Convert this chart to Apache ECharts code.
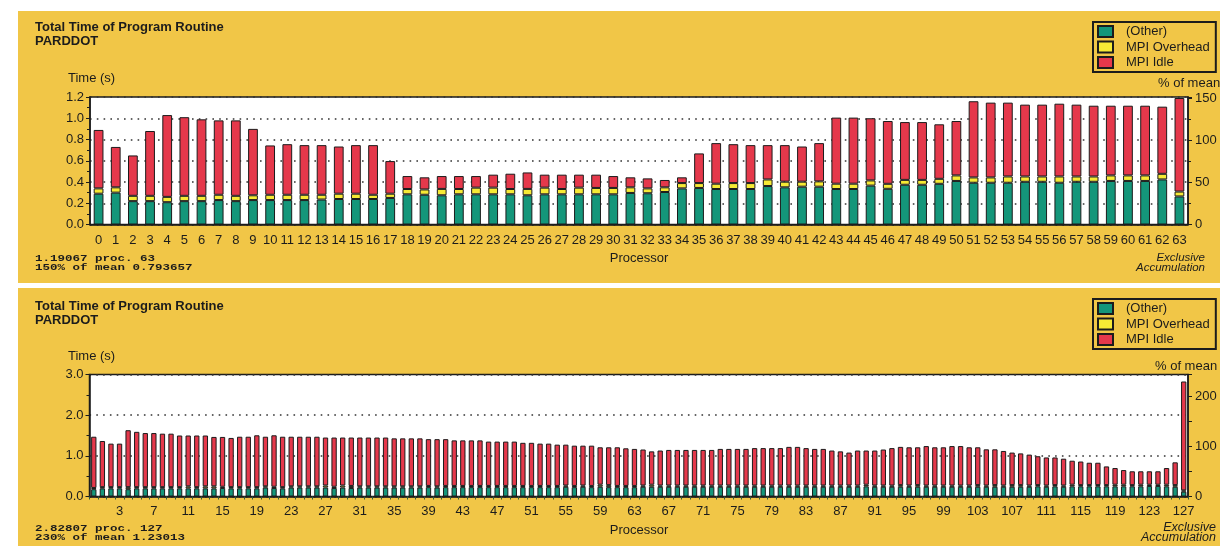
<!DOCTYPE html>
<html>
<head>
<meta charset="utf-8">
<script src="https://cdn.jsdelivr.net/npm/echarts@6/dist/echarts.min.js"></script>
<style>
  html, body { margin: 0; padding: 0; background: #ffffff; }
  #chart { width: 1220px; height: 546px; }
</style>
</head>
<body>
<div id="chart"></div>
<script>
// ---- Stack segment names (bottom to top) ----
const segmentNames = ['(Other)', 'MPI Overhead', 'MPI Idle'];

// ---- Run A: 64 processors ----
const procsA = Array.from({ length: 64 }, (_, i) => String(i));
const meanA = 0.793657;
const totalA = [
  0.89, 0.73, 0.65, 0.88, 1.03, 1.01, 0.99, 0.98, 0.98, 0.90,
  0.744, 0.756, 0.747, 0.747, 0.734, 0.747, 0.747, 0.597, 0.456, 0.444,
  0.456, 0.456, 0.456, 0.469, 0.478, 0.49, 0.469, 0.469, 0.469, 0.469,
  0.456, 0.444, 0.434, 0.419, 0.444, 0.669, 0.766, 0.756, 0.747, 0.747,
  0.747, 0.734, 0.766, 1.006, 1.006, 1.0, 0.974, 0.964, 0.964, 0.943,
  0.974, 1.16, 1.147, 1.147, 1.128, 1.128, 1.137, 1.128, 1.118, 1.118,
  1.118, 1.118, 1.109, 1.19067
];
const otherA = [
  0.29, 0.30, 0.22, 0.22, 0.21, 0.22, 0.22, 0.23, 0.22, 0.23,
  0.23, 0.23, 0.23, 0.235, 0.24, 0.24, 0.24, 0.25, 0.284, 0.28,
  0.275, 0.284, 0.284, 0.284, 0.284, 0.275, 0.284, 0.284, 0.284, 0.284,
  0.284, 0.297, 0.294, 0.306, 0.34, 0.344, 0.334, 0.334, 0.334, 0.362,
  0.35, 0.356, 0.356, 0.334, 0.334, 0.366, 0.336, 0.374, 0.374, 0.383,
  0.41, 0.393, 0.393, 0.393, 0.402, 0.402, 0.393, 0.402, 0.402, 0.41,
  0.41, 0.41, 0.424, 0.264
];
const overheadA = [
  0.05, 0.05, 0.05, 0.05, 0.05, 0.05, 0.05, 0.05, 0.05, 0.045,
  0.05, 0.05, 0.05, 0.045, 0.05, 0.05, 0.04, 0.04, 0.05, 0.05,
  0.06, 0.05, 0.063, 0.063, 0.05, 0.06, 0.063, 0.05, 0.063, 0.06,
  0.06, 0.053, 0.046, 0.044, 0.05, 0.046, 0.05, 0.056, 0.056, 0.062,
  0.053, 0.047, 0.05, 0.05, 0.05, 0.049, 0.047, 0.046, 0.046, 0.047,
  0.052, 0.05, 0.05, 0.059, 0.05, 0.05, 0.059, 0.05, 0.05, 0.052,
  0.052, 0.052, 0.053, 0.046
];

// ---- Run B: 128 processors ----
const procsB = Array.from({ length: 128 }, (_, i) => String(i));
const meanB = 1.23013;
const totalB = [
  1.47, 1.365, 1.30, 1.30, 1.63, 1.59, 1.56, 1.56, 1.545, 1.545,
  1.50, 1.50, 1.50, 1.50, 1.465, 1.465, 1.44, 1.47, 1.47, 1.505,
  1.47, 1.505, 1.47, 1.47, 1.47, 1.47, 1.47, 1.45, 1.45, 1.45,
  1.45, 1.45, 1.45, 1.45, 1.45, 1.43, 1.43, 1.43, 1.43, 1.41,
  1.41, 1.41, 1.38, 1.38, 1.38, 1.38, 1.35, 1.35, 1.35, 1.35,
  1.32, 1.32, 1.30, 1.30, 1.275, 1.275, 1.25, 1.25, 1.25, 1.21,
  1.21, 1.21, 1.185, 1.17, 1.155, 1.11, 1.13, 1.145, 1.145, 1.145,
  1.145, 1.145, 1.145, 1.17, 1.17, 1.17, 1.17, 1.19, 1.19, 1.19,
  1.19, 1.22, 1.22, 1.19, 1.17, 1.17, 1.13, 1.11, 1.08, 1.13,
  1.13, 1.13, 1.155, 1.19, 1.22, 1.21, 1.21, 1.24, 1.21, 1.21,
  1.24, 1.24, 1.21, 1.21, 1.16, 1.16, 1.12, 1.08, 1.06, 1.03,
  0.99, 0.96, 0.96, 0.93, 0.88, 0.86, 0.83, 0.83, 0.74, 0.70,
  0.65, 0.62, 0.62, 0.62, 0.62, 0.70, 0.84, 2.82807
];
const otherB = [
  0.18, 0.20, 0.20, 0.20, 0.18, 0.20, 0.20, 0.20, 0.20, 0.20,
  0.20, 0.20, 0.20, 0.20, 0.20, 0.21, 0.20, 0.20, 0.20, 0.20,
  0.22, 0.21, 0.20, 0.22, 0.22, 0.22, 0.22, 0.22, 0.21, 0.22,
  0.21, 0.22, 0.22, 0.22, 0.22, 0.22, 0.22, 0.22, 0.22, 0.23,
  0.22, 0.23, 0.23, 0.23, 0.23, 0.23, 0.23, 0.23, 0.23, 0.23,
  0.23, 0.23, 0.23, 0.23, 0.23, 0.24, 0.23, 0.24, 0.23, 0.24,
  0.23, 0.23, 0.23, 0.23, 0.24, 0.24, 0.24, 0.24, 0.24, 0.24,
  0.24, 0.24, 0.24, 0.24, 0.24, 0.24, 0.24, 0.24, 0.24, 0.24,
  0.24, 0.24, 0.24, 0.24, 0.24, 0.24, 0.24, 0.24, 0.24, 0.24,
  0.25, 0.24, 0.24, 0.24, 0.24, 0.24, 0.24, 0.24, 0.24, 0.24,
  0.24, 0.24, 0.24, 0.24, 0.24, 0.24, 0.24, 0.24, 0.24, 0.24,
  0.25, 0.24, 0.25, 0.24, 0.25, 0.25, 0.25, 0.25, 0.25, 0.25,
  0.25, 0.25, 0.25, 0.26, 0.26, 0.25, 0.24, 0.12
];
const overheadB = [
  0.03, 0.03, 0.03, 0.03, 0.05, 0.03, 0.03, 0.03, 0.03, 0.03,
  0.03, 0.05, 0.03, 0.05, 0.05, 0.03, 0.03, 0.03, 0.03, 0.03,
  0.03, 0.03, 0.03, 0.03, 0.03, 0.03, 0.03, 0.05, 0.03, 0.05,
  0.05, 0.03, 0.03, 0.03, 0.03, 0.03, 0.03, 0.03, 0.03, 0.03,
  0.03, 0.03, 0.03, 0.03, 0.03, 0.03, 0.03, 0.03, 0.03, 0.03,
  0.03, 0.03, 0.03, 0.03, 0.03, 0.03, 0.03, 0.03, 0.03, 0.05,
  0.05, 0.03, 0.03, 0.03, 0.03, 0.05, 0.03, 0.03, 0.03, 0.03,
  0.03, 0.03, 0.03, 0.03, 0.03, 0.03, 0.03, 0.03, 0.03, 0.03,
  0.03, 0.03, 0.03, 0.03, 0.03, 0.03, 0.03, 0.03, 0.03, 0.03,
  0.04, 0.03, 0.03, 0.03, 0.04, 0.03, 0.04, 0.03, 0.03, 0.03,
  0.03, 0.03, 0.03, 0.04, 0.03, 0.04, 0.03, 0.04, 0.04, 0.03,
  0.03, 0.03, 0.03, 0.03, 0.04, 0.03, 0.03, 0.03, 0.03, 0.04,
  0.04, 0.03, 0.04, 0.03, 0.03, 0.04, 0.04, 0.03
];

// Idle time is whatever remains of each processor's total
const idleFrom = (tot, oth, ovh) => tot.map((t, i) => +(t - oth[i] - ovh[i]).toFixed(5));
const idleA = idleFrom(totalA, otherA, overheadA);
const idleB = idleFrom(totalB, otherB, overheadB);

// ---- Look ----
const segColors = ['#14967a', '#f6ea35', '#e5384b'];
const panelColor = '#f1c647';
const ink = '#1c1c1c';
const sans = '"Liberation Sans", Arial, sans-serif';
const mono = '"Liberation Mono", "Courier New", monospace';

function peakOf(totals) {
  let k = 0;
  totals.forEach((v, i) => { if (v > totals[k]) k = i; });
  return k;
}
const peakA = peakOf(totalA);
const peakB = peakOf(totalB);

function stackSeries(stackId, axisIdx, segs, barWidth) {
  return segs.map((vals, s) => ({
    name: segmentNames[s],
    type: 'bar',
    stack: stackId,
    xAxisIndex: axisIdx,
    yAxisIndex: axisIdx * 2,
    barWidth: barWidth,
    data: vals,
    itemStyle: { color: segColors[s], borderColor: ink, borderWidth: 1 },
    emphasis: { disabled: true },
    animation: false
  }));
}

function xAxisFor(grid, cats, labelInterval, margin, ticks) {
  return {
    gridIndex: grid,
    type: 'category',
    data: cats,
    axisLine: { lineStyle: { color: ink, width: 1.5 } },
    axisTick: ticks ? { show: true, interval: 0, length: 3, lineStyle: { color: '#2f5d3c' } } : { show: false },
    axisLabel: { interval: labelInterval, margin: margin, fontSize: 13, color: ink, fontFamily: sans }
  };
}

function leftAxis(grid, max, interval, minorSplit, dotted) {
  return {
    gridIndex: grid,
    type: 'value',
    position: 'left',
    min: 0, max: max, interval: interval,
    axisLine: { show: true, lineStyle: { color: ink, width: 1.5 } },
    axisTick: { show: true, length: 4, lineStyle: { color: ink } },
    minorTick: { show: true, splitNumber: minorSplit, length: 3, lineStyle: { color: ink } },
    splitLine: { show: dotted, lineStyle: { color: '#333', width: 1.6, type: [1.6, 5.2] } },
    axisLabel: { margin: 6, fontSize: 13, color: ink, fontFamily: sans, formatter: v => v.toFixed(1) }
  };
}

function rightAxis(grid, leftMax, mean, labelStep) {
  return {
    gridIndex: grid,
    type: 'value',
    position: 'right',
    min: 0, max: leftMax / mean * 100, interval: 50,
    axisLine: { show: true, lineStyle: { color: ink, width: 1.5 } },
    axisTick: { show: true, length: 4, lineStyle: { color: ink } },
    minorTick: { show: labelStep === 50, splitNumber: 2, length: 3, lineStyle: { color: ink } },
    splitLine: { show: false },
    axisLabel: {
      margin: 7, fontSize: 13, color: ink, fontFamily: sans,
      formatter: v => (Math.abs(v % labelStep) < 1e-6 ? String(Math.round(v)) : '')
    }
  };
}

function legendAt(top) {
  return {
    data: segmentNames,
    orient: 'vertical',
    left: 1093, top: top,
    icon: 'rect',
    itemWidth: 15, itemHeight: 11, itemGap: 2.5,
    padding: [3, 6, 3, 4],
    borderColor: ink, borderWidth: 2,
    selectedMode: false,
    textStyle: { fontSize: 13, color: ink, fontFamily: sans, lineHeight: 13, padding: [0, 0, 0, 8] }
  };
}

function txt(x, y, text, font, align, lineHeight, squash) {
  return {
    type: 'text', x: x, y: y, silent: true,
    scaleY: squash || 1,
    style: { text: text, font: font, fill: ink, align: align || 'left', verticalAlign: 'top', lineHeight: lineHeight || 14 }
  };
}

const titleText = 'Total Time of Program Routine\nPARDDOT';

// Peak-processor summary printed under each chart
function peakNote(totals, procs, peak, mean) {
  return totals[peak] + ' proc. ' + procs[peak] + '\n' +
    Math.round(totals[peak] / mean * 100) + '% of mean ' + mean;
}

const option = {
  animation: false,
  textStyle: { fontFamily: sans },
  graphic: [
    { type: 'rect', z: -100, silent: true, shape: { x: 18, y: 11, width: 1202, height: 272 }, style: { fill: panelColor } },
    { type: 'rect', z: -100, silent: true, shape: { x: 18, y: 288, width: 1202, height: 258 }, style: { fill: panelColor } },
    txt(35, 20, titleText, 'bold 13px ' + sans, 'left', 14),
    txt(35, 299, titleText, 'bold 13px ' + sans, 'left', 14),
    txt(68, 71, 'Time (s)', '13px ' + sans),
    txt(68, 349, 'Time (s)', '13px ' + sans),
    txt(1158, 76, '% of mean', '13px ' + sans),
    txt(1155, 359, '% of mean', '13px ' + sans),
    txt(639, 251, 'Processor', '13px ' + sans, 'center'),
    txt(639, 523, 'Processor', '13px ' + sans, 'center'),
    txt(35, 254.5, peakNote(totalA, procsA, peakA, meanA), 'bold 12.5px ' + mono, 'left', 11.5, 0.78),
    txt(35, 523.5, peakNote(totalB, procsB, peakB, meanB), 'bold 12.5px ' + mono, 'left', 12, 0.78),
    txt(1205, 253, 'Exclusive\nAccumulation', 'italic 11.5px ' + sans, 'right', 10),
    txt(1216, 523, 'Exclusive\nAccumulation', 'italic 12.5px ' + sans, 'right', 9.8)
  ],
  legend: [legendAt(22), legendAt(299)],
  grid: [
    { left: 90, top: 97, width: 1098, height: 127.5, show: true, backgroundColor: '#ffffff', borderColor: ink, borderWidth: 1.5 },
    { left: 89.5, top: 374.5, width: 1098.5, height: 122, show: true, backgroundColor: '#ffffff', borderColor: ink, borderWidth: 1.5 }
  ],
  xAxis: [
    xAxisFor(0, procsA, 0, 9, false),
    xAxisFor(1, procsB, i => i % 4 === 3, 8, true)
  ],
  yAxis: [
    leftAxis(0, 1.2, 0.2, 2, true),
    rightAxis(0, 1.2, meanA, 50),
    leftAxis(1, 3.0, 1.0, 2, true),
    rightAxis(1, 3.0, meanB, 100)
  ],
  series: [
    ...stackSeries('runA', 0, [otherA, overheadA, idleA], '57%'),
    ...stackSeries('runB', 1, [otherB, overheadB, idleB], '62%')
  ]
};

const chart = echarts.init(document.getElementById('chart'), null, { renderer: 'canvas' });
chart.setOption(option);
</script>
</body>
</html>
